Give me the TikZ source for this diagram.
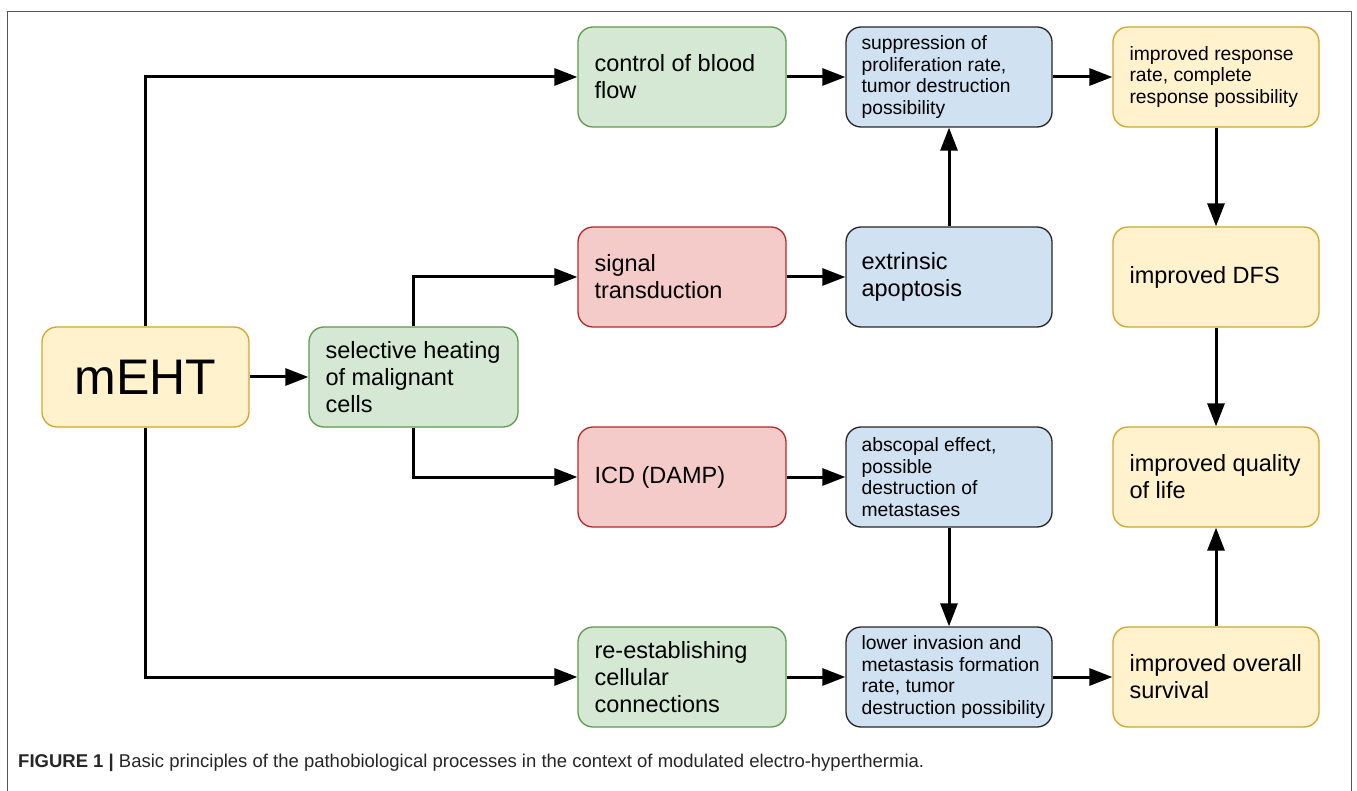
\documentclass[tikz,border=0pt]{standalone}
\usepackage{fontspec}
\setmainfont{Liberation Sans}
\usetikzlibrary{arrows.meta}
\definecolor{yfill}{HTML}{FFF2CC}
\definecolor{ydraw}{HTML}{D2A62C}
\definecolor{gfill}{HTML}{D5E8D4}
\definecolor{gdraw}{HTML}{5E9A4C}
\definecolor{rfill}{HTML}{F5CBCA}
\definecolor{rdraw}{HTML}{B02A2A}
\definecolor{bfill}{HTML}{D0E1F2}
\definecolor{bdraw}{HTML}{262626}
\definecolor{framec}{HTML}{555555}
\tikzset{
  box/.style={rounded corners=15pt, minimum height=100pt, line width=1.3pt, inner sep=0pt},
  ybox/.style={box, fill=yfill, draw=ydraw, minimum width=206pt},
  gbox/.style={box, fill=gfill, draw=gdraw, minimum width=208pt},
  rbox/.style={box, fill=rfill, draw=rdraw, minimum width=208pt},
  bbox/.style={box, fill=bfill, draw=bdraw, minimum width=206pt},
  txt/.style={anchor=west, align=left, inner sep=0pt, font=\fontsize{23.5}{27}\selectfont},
  stxt/.style={anchor=west, align=left, inner sep=0pt, font=\fontsize{19.3}{21.8}\selectfont},
  arr/.style={line width=3pt, -{Triangle[length=23pt,width=17pt]}}
}
\begin{document}
\begin{tikzpicture}[x=1pt,y=-1pt]
\useasboundingbox (0,0) rectangle (1357,791);
% frame
\draw[framec, line width=0.9pt] (7,791) -- (7,11) -- (1351,11) -- (1351,791);
% column 1
\node[ybox, minimum width=207pt, font=\fontsize{50}{60}\selectfont] (m) at (145.5,377) {mEHT};
\node[gbox, minimum width=209pt] (s) at (413.5,377) {};
\node[txt] (st) at ([xshift=17pt]s.west) {selective heating\\of malignant\\cells};
% column 2
\node[gbox] (cbf) at (682,77) {};
\node[txt] (cbft) at ([xshift=17pt]cbf.west) {control of blood\\flow};
\node[rbox] (sig) at (682,277) {};
\node[txt] (sigt) at ([xshift=17pt]sig.west) {signal\\transduction};
\node[rbox] (icd) at (682,477) {};
\node[txt] (icdt) at ([xshift=17pt]icd.west) {ICD (DAMP)};
\node[gbox] (re) at (682,677) {};
\node[txt] (ret) at ([xshift=17pt]re.west) {re-establishing\\cellular\\connections};
% column 3
\node[bbox] (sup) at (949,77) {};
\node[stxt] (supt) at ([xshift=16pt]sup.west) {suppression of\\proliferation rate,\\tumor destruction\\possibility};
\node[bbox] (ext) at (949,277) {};
\node[txt] (extt) at ([xshift=16pt]ext.west) {extrinsic\\apoptosis};
\node[bbox] (abs) at (949,477) {};
\node[stxt] (abst) at ([xshift=16pt]abs.west) {abscopal effect,\\possible\\destruction of\\metastases};
\node[bbox] (low) at (949,677) {};
\node[stxt] (lowt) at ([xshift=16pt]low.west) {lower invasion and\\metastasis formation\\rate, tumor\\destruction possibility};
% column 4
\node[ybox] (resp) at (1216,77) {};
\node[stxt] (respt) at ([xshift=17pt]resp.west) {improved response\\rate, complete\\response possibility};
\node[ybox] (dfs) at (1216,277) {};
\node[txt] (dfst) at ([xshift=17pt]dfs.west) {improved DFS};
\node[ybox] (qol) at (1216,477) {};
\node[txt] (qolt) at ([xshift=17pt]qol.west) {improved quality\\of life};
\node[ybox] (os) at (1216,677) {};
\node[txt] (ost) at ([xshift=17pt]os.west) {improved overall\\survival};
% connectors
\draw[arr] (m) -- (s);
\draw[arr] (m.north) |- (cbf.west);
\draw[arr] (m.south) |- (re.west);
\draw[arr] (s.north) |- (sig.west);
\draw[arr] (s.south) |- (icd.west);
\draw[arr] (cbf) -- (sup);
\draw[arr] (sig) -- (ext);
\draw[arr] (icd) -- (abs);
\draw[arr] (re) -- (low);
\draw[arr] (ext) -- (sup);
\draw[arr] (abs) -- (low);
\draw[arr] (sup) -- (resp);
\draw[arr] (low) -- (os);
\draw[arr] (resp) -- (dfs);
\draw[arr] (dfs) -- (qol);
\draw[arr] (os) -- (qol);
% caption
\node[anchor=base west, inner sep=0pt, text=black!85, font=\fontsize{18.5}{21}\selectfont] (cap) at (18,767) {\textbf{FIGURE 1 |} Basic principles of the pathobiological processes in the context of modulated electro-hyperthermia.};
\end{tikzpicture}
\end{document}
